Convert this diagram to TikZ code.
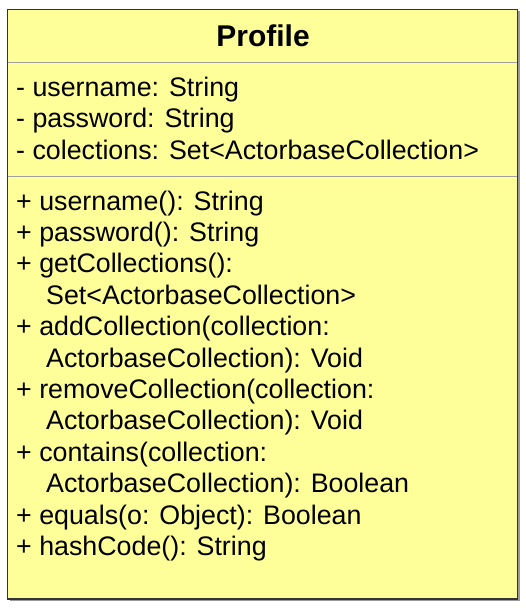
\documentclass[tikz,border=0pt]{standalone}
\usepackage{fontspec}
\setmainfont{Liberation Sans}
\usepackage{xcolor}
\definecolor{classfill}{HTML}{FFFF99}
\definecolor{classdraw}{HTML}{333333}
\definecolor{sepgray}{HTML}{A0A0A0}
\definecolor{shadowgray}{HTML}{9A9A9A}
\tikzset{
  member/.style={anchor=base west, inner sep=0pt, font=\fontsize{26.8}{31.4}\selectfont},
  classname/.style={anchor=base, inner sep=0pt, font=\fontsize{30}{36}\selectfont\bfseries},
}

\begin{document}
\begin{tikzpicture}[x=1pt, y=-1pt]
        \useasboundingbox (0,0) rectangle (526,608);
        % class box
        \fill[shadowgray] (9.5,11) rectangle (519.5,601);
        \draw[classdraw, fill=classfill, line width=1.5pt] (7.5,9.5) rectangle (517.5,599);
        \draw[sepgray, line width=1.2pt] (8.25,62.3) -- (516.75,62.3);
        \draw[sepgray, line width=1.2pt] (8.25,176.7) -- (516.75,176.7);
        \node[classname] (title) at (263,46.7) {Profile};
        % attributes
        \foreach \txt [count=\i] in {- username: String, - password: String,
            - colections: Set<ActorbaseCollection>}
          \node[member] (attr\i) at (16,{96.5+31.4*(\i-1)}) {\txt};
        % operations
        \foreach \x/\txt [count=\i] in {16/+ username(): String, 16/+ password(): String,
            16/+ getCollections():, 46/Set<ActorbaseCollection>,
            16/+ addCollection(collection:, 46/ActorbaseCollection): Void,
            16/+ removeCollection(collection:, 46/ActorbaseCollection): Void,
            16/+ contains(collection:, 46/ActorbaseCollection): Boolean,
            16/+ equals(o: Object): Boolean, 16/+ hashCode(): String}
          \node[member] (op\i) at (\x,{210+31.4*(\i-1)}) {\txt};
\end{tikzpicture}
\end{document}
